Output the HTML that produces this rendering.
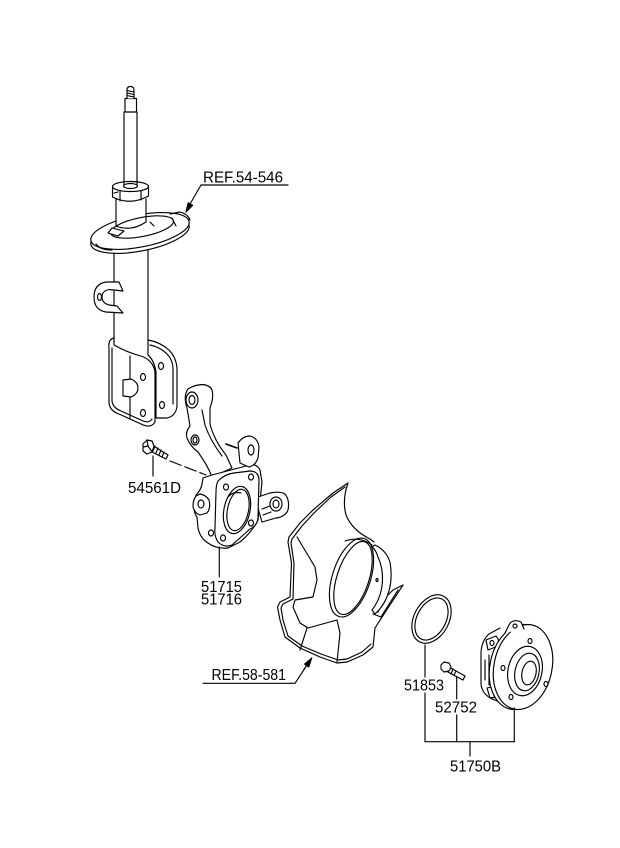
<!DOCTYPE html>
<html><head><meta charset="utf-8"><style>
html,body{margin:0;padding:0;background:#fff;}
svg{display:block;}
text{font-family:"Liberation Sans",Arial,sans-serif;font-size:15.5px;fill:#000;stroke:none;}
</style></head><body>
<svg width="620" height="848" viewBox="0 0 620 848" xmlns="http://www.w3.org/2000/svg">
<rect width="620" height="848" fill="#fff"/>
<g fill="none" stroke="#000" stroke-width="1.15" stroke-linejoin="round" stroke-linecap="round">

<!-- ===== STRUT ===== -->
<path d="M114,244 L114,342 M148,242 L148,342"/>
<ellipse cx="140" cy="235" rx="50" ry="16" transform="rotate(-11 140 235)" fill="#fff"/>
<ellipse cx="140" cy="231" rx="50" ry="16" transform="rotate(-11 140 231)" fill="#fff"/>
<path d="M96,244 Q100,250 112,250"/>
<path d="M116,199 L116,226 Q131,232 146,222 L146,199" fill="#fff"/>
<ellipse cx="142" cy="227" rx="32" ry="9.5" transform="rotate(-11 142 227)"/>
<path d="M112,228 L108,233 L118,236 L124,231 Z" fill="#fff"/>
<path d="M170,214 L180,212 Q188,214 190,220"/>
<path d="M172,218 L176,226 M150,222 L154,226"/>
<path d="M112.5,187 L112.5,197 Q130,206 148.5,196 L148.5,186" fill="#fff"/>
<ellipse cx="130.5" cy="186.5" rx="18" ry="5" fill="#fff"/>
<path d="M120,191 L120,201 M141,191 L141,200 M114,193 L118,192"/>
<ellipse cx="130.5" cy="186" rx="7" ry="2.5" fill="#fff"/>
<path d="M124,112 L124,185 M137,112 L137,185"/>
<rect x="125" y="98.5" width="11.5" height="13.5" fill="#fff"/>
<path d="M127,98.5 L127,90 Q127,86.5 130.5,86.5 Q134,86.5 134,90 L134,98.5" fill="#fff"/>
<path d="M127,90.5 L134,92 M127,93 L134,94.5 M127,95.5 L134,97"/>
<path d="M119,282 L106,282 Q94,284 94,297 Q94,310 106,312 L123,313 L117,306 L109,305 Q102,303 102,297 Q102,291 109,289.5 L123,291 Z" fill="#fff"/>
<ellipse cx="99.5" cy="297" rx="2" ry="3.5"/>
<path d="M148,340 Q160,342 169,350 Q176,357 177,368 L177,406 Q176,416 167,418 L156,418 L156,372 Q154,360 148,355 Z" fill="#fff"/>
<path d="M150,345 Q160,347 167,354 Q173,360 173,369 L173,404"/>
<ellipse cx="161" cy="366" rx="2.5" ry="3.5"/>
<ellipse cx="162" cy="405" rx="2.5" ry="3.5"/>
<path d="M114,338 Q108,339 109,348 L109,403 Q110,411 119,414 L141,424 Q151,429 155,422 L155,372 Q153,360 141,356 Q126,352 114,345 Z" fill="#fff"/>
<path d="M112,348 L112,401 Q113,408 121,411 L141,420 Q149,424 152,419"/>
<path d="M130,356 L130,379 M130,397 L130,418"/>
<path d="M123,380 L123,396 L131,397 Q138,394 138,388 Q138,382 131,379 Z" fill="#fff"/>
<ellipse cx="143" cy="377" rx="2.5" ry="3.5"/>
<ellipse cx="143" cy="413" rx="2.5" ry="3.5"/>

<!-- ===== BOLT 54561D ===== -->
<path d="M152,445 L168,455 L166,459 L150,451 Z" fill="#fff"/>
<path d="M155,446 L153,451 M158,448 L156,453 M161,450 L159,455 M164,452 L162,457"/>
<path d="M143,444 L147,440 L152,441 L154,446 L152,452 L147,454 L143,451 Z" fill="#fff"/>
<path d="M147,440 L148,446 L152,452 M148,446 L143,447"/>
<path d="M170,461 L206,475" stroke-dasharray="12,4"/>

<!-- ===== KNUCKLE ===== -->
<path d="M187,408 Q183,396 188,389 Q194,385 202,384.5 Q210,385 212,390 Q214,397 210,408 L210,424 Q214,440 226,455 L232,468 L212,477 Q208,466 198,452 Q190,446 187,438 Q185,432 190,426 Z" fill="#fff"/>
<ellipse cx="192" cy="400" rx="6" ry="8" fill="#fff"/>
<ellipse cx="192" cy="400" rx="3" ry="4.5"/>
<path d="M202,410 L205,425 Q210,440 222,456"/>
<ellipse cx="195" cy="440" rx="4" ry="5" fill="#fff"/>
<ellipse cx="195" cy="440" rx="2" ry="3"/>
<path d="M203,478 L212,475 L246,466 Q256,462 260,470 L262,482 L258,520 Q252,532 240,542 L228,548 Q216,549 208,543 Q200,538 198,528 L197,517 Q193,512 195,505 L196,495 Q201,490 202,484 Z" fill="#fff"/>
<path d="M255,498 L270,493 Q280,491 285,494 Q290,500 288,510 Q285,517 276,518 L262,522 Z" fill="#fff"/>
<ellipse cx="276" cy="504" rx="6" ry="7" fill="#fff"/>
<ellipse cx="276" cy="504" rx="3" ry="4"/>
<path d="M262,509 L270,506 M263,515 L271,512"/>
<path d="M218,481 Q225,474 234,473 L250,471 Q258,471 259,479 L258,518 Q257,526 250,529 L232,545 Q224,548 218,542 Q214,536 215,528 L216,492 Q216,485 218,481 Z" fill="#fff"/>
<ellipse cx="226" cy="487" rx="2.5" ry="3"/>
<ellipse cx="251" cy="477" rx="2.5" ry="3"/>
<ellipse cx="251" cy="523" rx="2.5" ry="3"/>
<ellipse cx="223" cy="538" rx="2.5" ry="3"/>
<ellipse cx="237" cy="510" rx="13" ry="24" transform="rotate(12 237 510)" fill="#fff"/>
<ellipse cx="238" cy="510" rx="10.5" ry="21" transform="rotate(12 238 510)"/>
<path d="M228,497 Q233,491 241,493"/>
<path d="M238,443 Q243,436 250,436 Q258,438 259,447 L258,458 Q255,466 249,467 L240,463 Z" fill="#fff"/>
<ellipse cx="251" cy="450" rx="3" ry="5"/>
<path d="M226,444 L237,448" stroke-width="1.6"/>
<path d="M196,496 Q193,500 193,506 Q194,513 200,515 L207,513 Q211,508 209,500 Q206,495 200,494 Z" fill="#fff"/>
<ellipse cx="201" cy="504" rx="3" ry="4"/>
<ellipse cx="211" cy="533" rx="2.5" ry="3"/>

<!-- ===== DUST SHIELD ===== -->
<path d="M348,483 L333,493 L313,510 L300,523 L289,537 L288,542 L291.5,563 L290,597 L280,602 L277.5,607 L280,620 L285,637 L300,648 L320,657 L337,663 L347,662 L363,655 L373,647 L375,628 L386,611 L403,585 L393,590 L383,600 L378,612" fill="#fff"/>
<path d="M345,487 L331,497 L314,513 L302,526 L292,539 L291,543 L294,563 L293,599 L283,604 L281,608 L283,620 L288,636 L302,646 L321,654 L338,660 L347,659 L362,652 L371,644"/>
<path d="M348,483 Q342,500 346,515 Q352,530 370,539 L374,542"/>
<path d="M297,537 L303,547 L315,567 L317,580 L313,597 L295,600 L293,607 L300,623 L308,628 L337,620 L340,633 L337,662"/>
<path d="M307,628 L300,650"/>
<ellipse cx="351.5" cy="577.5" rx="19" ry="41" transform="rotate(18 351.5 577.5)" fill="#fff"/>
<ellipse cx="353" cy="578" rx="16" ry="38" transform="rotate(18 353 578)"/>
<path d="M345,541 Q360,536 372,545"/>
<path d="M375,545 Q386,550 390,562 Q393,580 388,594 Q384,606 375,614 L372,610 Q380,600 382,586 Q384,570 378,557 Q376,550 372,547 Z" fill="#fff"/>
<ellipse cx="377" cy="580" rx="1" ry="1.5"/>
<path d="M373,614 L381,617 L398,590"/>

<!-- ===== RING 51853 ===== -->
<ellipse cx="431.5" cy="619" rx="17.5" ry="25.8" transform="rotate(28 431.5 619)"/>
<ellipse cx="431.5" cy="619" rx="14.5" ry="22.5" transform="rotate(28 431.5 619)"/>

<!-- ===== BOLT 52752 ===== -->
<path d="M447,666 L465,676 L463,680 L446,671 Z" fill="#fff"/>
<path d="M450,667 L448,672 M453,669 L451,674 M456,671 L454,675"/>
<path d="M441,665 L444,662 L449,663 L451,667 L449,671 L444,672 L441,669 Z" fill="#fff"/>

<!-- ===== HUB ===== -->
<path d="M500,628 L489,634 Q482,640 481,652 L481,684 Q482,694 492,699 L503,703" fill="#fff"/>
<path d="M486,640 L496,636 Q500,640 498,646 L488,650 Z" fill="#fff"/>
<ellipse cx="492" cy="643" rx="2" ry="2.5"/>
<path d="M487,688 L496,686 Q499,692 497,697 L490,698 Z" fill="#fff"/>
<path d="M485,660 L485,680 M489,655 L489,685"/>
<ellipse cx="519" cy="667" rx="29" ry="43" transform="rotate(12 519 667)" fill="#fff"/>
<ellipse cx="523" cy="667" rx="29" ry="43" transform="rotate(12 523 667)" fill="#fff"/>
<path d="M505,633 L510,623 Q515,619 521,622 L524,629" fill="#fff"/>
<ellipse cx="515" cy="626" rx="2" ry="2"/>
<ellipse cx="530" cy="641" rx="2" ry="2.5"/>
<ellipse cx="503" cy="668" rx="2" ry="2.5"/>
<ellipse cx="511" cy="697" rx="2" ry="2.5"/>
<ellipse cx="546" cy="684" rx="2" ry="2.5"/>
<ellipse cx="525" cy="671" rx="17" ry="25" transform="rotate(12 525 671)" fill="#fff"/>
<ellipse cx="527" cy="672" rx="12" ry="19" transform="rotate(12 527 672)"/>
<ellipse cx="529" cy="673" rx="7" ry="12" transform="rotate(12 529 673)"/>

<!-- ===== LEADERS ===== -->
<path d="M201,185 L288,185"/>
<path d="M201,185 L190,204"/>
<polygon points="186,212 192.6,205.3 188.2,202.9" fill="#000"/>
<path d="M153,456 L153,476"/>
<path d="M219.3,547 L219.3,577"/>
<path d="M203,683.3 L295,683.3 L307,665"/>
<polygon points="311.7,658 308.8,666.9 304.6,664.1" fill="#000"/>
<path d="M425,645 L425,677 M425,693 L425,741.7"/>
<path d="M456.7,677 L456.7,699 M456.7,715 L456.7,741.7"/>
<path d="M514.3,708 L514.3,741.7"/>
<path d="M425,741.7 L514.3,741.7"/>
<path d="M470,741.7 L470,756"/>
</g>

<text x="203" y="182.5" textLength="80" lengthAdjust="spacingAndGlyphs">REF.54-546</text>
<text x="128" y="493" textLength="53" lengthAdjust="spacingAndGlyphs">54561D</text>
<text x="201" y="592" textLength="41" lengthAdjust="spacingAndGlyphs">51715</text>
<text x="201" y="604.5" textLength="41" lengthAdjust="spacingAndGlyphs">51716</text>
<text x="211.5" y="680" textLength="74.5" lengthAdjust="spacingAndGlyphs">REF.58-581</text>
<text x="404" y="690.5" textLength="40" lengthAdjust="spacingAndGlyphs">51853</text>
<text x="435" y="712.5" textLength="42" lengthAdjust="spacingAndGlyphs">52752</text>
<text x="450" y="771.5" textLength="51" lengthAdjust="spacingAndGlyphs">51750B</text>
</svg>
</body></html>
